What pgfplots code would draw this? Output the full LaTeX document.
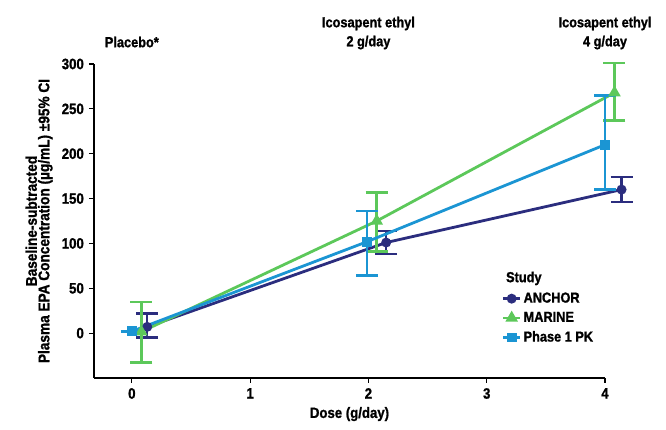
\documentclass[border=0pt]{standalone}
\usepackage{pgfplots}
\pgfplotsset{compat=1.18}
\usepackage{fontspec}
\setmainfont{Liberation Sans}[FakeStretch=0.88, BoldFeatures={FakeBold=1.2}]
\definecolor{anchor}{HTML}{2B2D7E}
\definecolor{marine}{HTML}{5CC85A}
\definecolor{pk}{HTML}{1B95D3}
\begin{document}
\fontsize{15pt}{17pt}\selectfont\bfseries
\begin{tikzpicture}
\begin{axis}[
  name=ax,
  scale only axis,
  width=511pt, height=314pt,
  xmin=-0.32, xmax=4, ymin=-50, ymax=300,
  axis lines=left,
  axis line style={line width=1.3pt, -},
  xtick={0,1,2,3,4}, ytick={0,50,100,150,200,250,300},
  tick align=outside,
  major tick length=5pt,
  tick style={line width=1.2pt, black},
  /pgf/number format/assume math mode=true,
  ticklabel style={font=\fontsize{15pt}{17pt}\selectfont\bfseries},
  xlabel={Dose (g/day)},
  ylabel={Baseline-subtracted\\Plasma EPA Concentration (µg/mL) ±95\% CI},
  ylabel style={align=center, font=\fontsize{15.5pt}{12.5pt}\selectfont\bfseries, yshift=-1pt},
  xlabel style={font=\fontsize{15pt}{17pt}\selectfont\bfseries, yshift=2pt},
  clip=false,
  legend style={draw=none, fill=none, at={(axis cs:3.1,50)}, anchor=north west,
    font=\fontsize{14.5pt}{17pt}\selectfont\bfseries, row sep=3pt,
    legend cell align=left},
  every axis plot/.append style={line width=2.8pt},
  error bars/error bar style={line width=2.5pt},
]
\addplot[color=anchor, mark=*, mark size=3.5pt,
  error bars/.cd, y dir=both, y explicit,
  error mark options={rotate=90, mark size=11pt, line width=2.5pt, color=anchor}]
  coordinates {(0.13,7) += (0,15) -= (0,12)
               (2.15,101) += (0,13) -= (0,13)
               (4.14,160) += (0,14) -= (0,14)};
\addlegendentry{ANCHOR}
\addplot[color=marine, mark=triangle*, mark size=4.5pt,
  error bars/.cd, y dir=both, y explicit,
  error mark options={rotate=90, mark size=11pt, line width=2.5pt, color=marine}]
  coordinates {(0.08,1.5) += (0,33) -= (0,34)
               (2.07,125) += (0,32) -= (0,34)
               (4.08,268) += (0,33) -= (0,31)};
\addlegendentry{MARINE}
\addplot[color=pk, mark=square*, mark size=3.5pt,
  error bars/.cd, y dir=both, y explicit,
  error mark options={rotate=90, mark size=11pt, line width=2.5pt, color=pk}]
  coordinates {(0,2) += (0,0) -= (0,0)
               (1.99,102) += (0,34) -= (0,38)
               (4,210) += (0,55) -= (0,50)};
\addlegendentry{Phase 1 PK}
\node[anchor=west, font=\fontsize{14.5pt}{17pt}\selectfont\bfseries] at (axis cs:3.12,61) {Study};
\node[align=center, font=\fontsize{14.5pt}{17pt}\selectfont\bfseries] at (axis cs:0,324.5) {Placebo*};
\node[align=center, font=\fontsize{14.5pt}{19pt}\selectfont\bfseries] at (axis cs:2,334.5) {Icosapent ethyl\\2 g/day};
\node[align=center, font=\fontsize{14.5pt}{19pt}\selectfont\bfseries] at (axis cs:4,334.5) {Icosapent ethyl\\4 g/day};
\end{axis}
\pgfresetboundingbox
\useasboundingbox (-94pt,-52pt) rectangle (572pt,378pt);
\end{tikzpicture}
\end{document}
